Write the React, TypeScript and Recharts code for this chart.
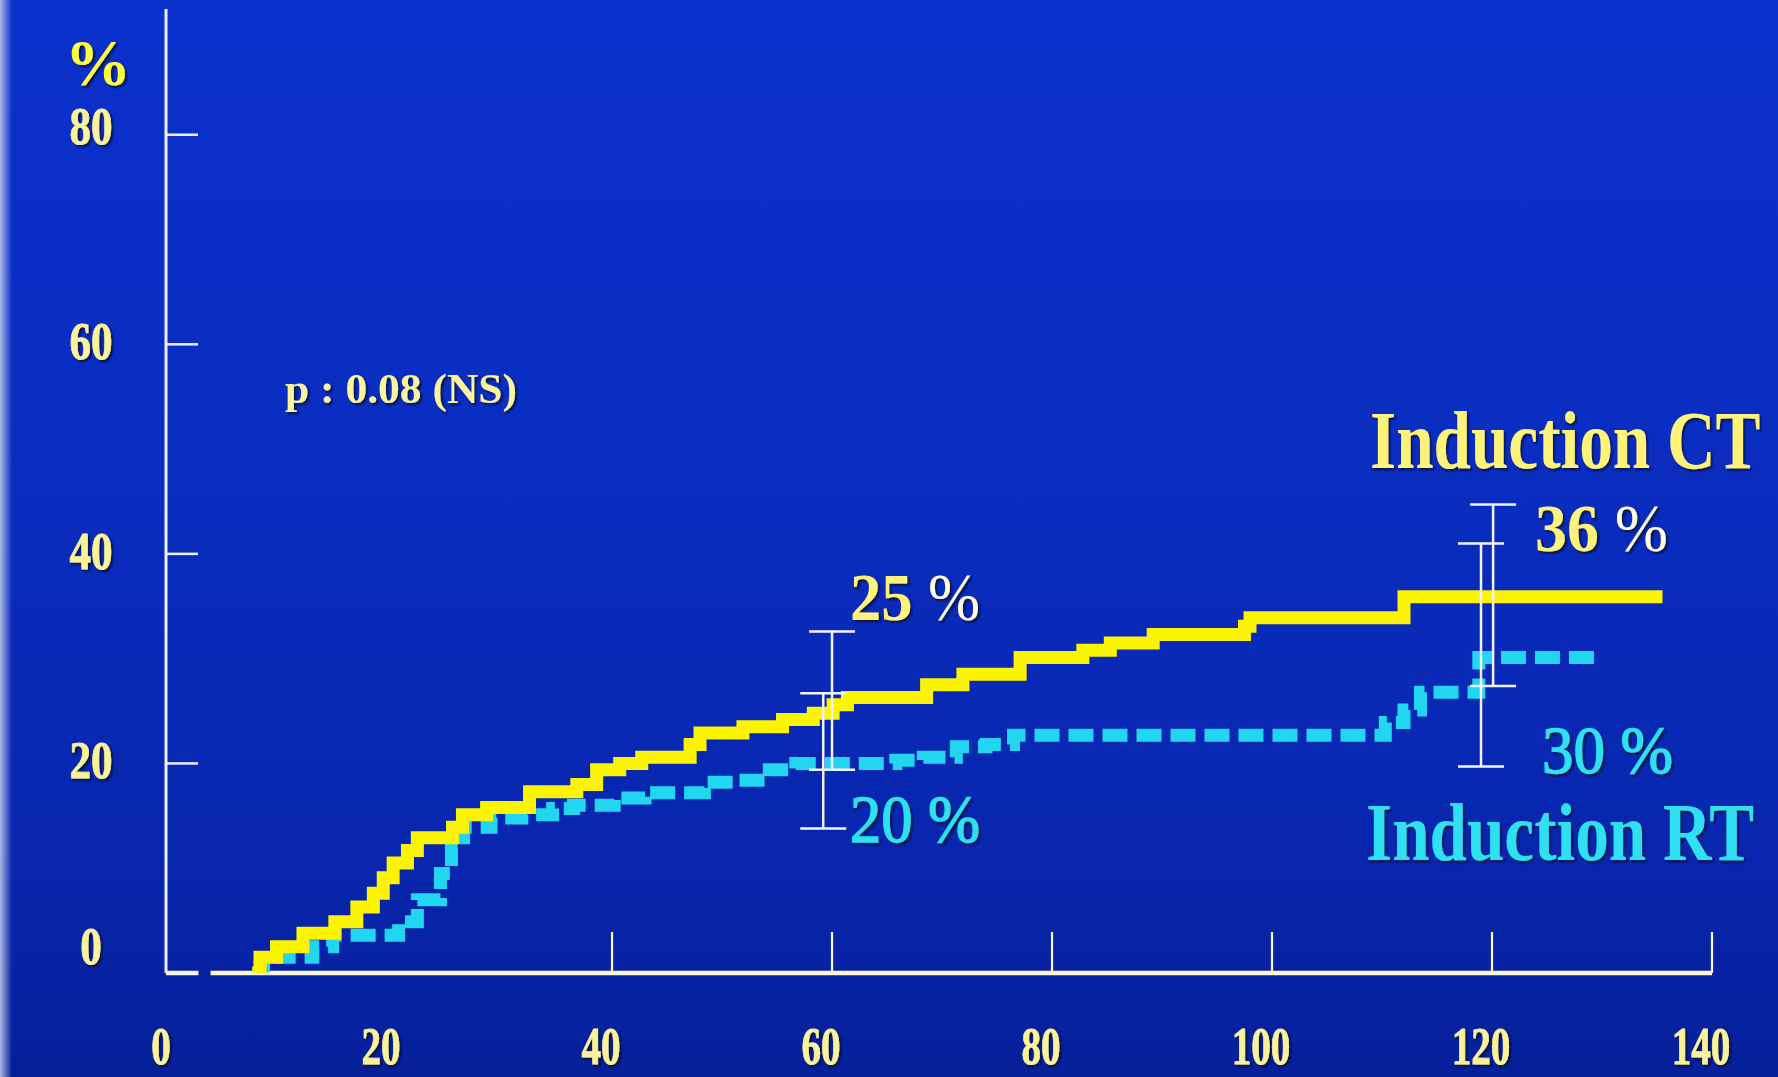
import React from 'react';
import { ComposedChart, Line, XAxis, YAxis, Scatter, ErrorBar, ReferenceLine } from 'recharts';

// Induction CT (yellow) cumulative incidence, step points (months, %)
const ctTime = [7.3, 8, 9.5, 11.9, 14.8, 16.8, 18.3, 19.2, 20.1, 21.4, 22.3, 25.5, 26.4, 28.6, 32.5, 36.8, 38.6, 40.7, 42.7, 47.1, 48, 51.9, 55.5, 58.3, 60.1, 61.4, 68.6, 71.9, 77.1, 82.8, 85.3, 89.2, 97.5, 98, 112, 135.5];
const ctPct = [0, 1.5, 2.5, 3.8, 4.9, 6.3, 7.6, 9.1, 10.5, 11.7, 12.9, 13.9, 15.1, 15.8, 17.3, 18.0, 19.4, 20.0, 20.6, 21.8, 22.9, 23.5, 24.2, 24.8, 25.6, 26.3, 27.5, 28.5, 30.1, 30.8, 31.5, 32.3, 33.1, 33.9, 35.9, 35.9];

// Induction RT (cyan, dashed)
const rtTime = [7.3, 8, 9.5, 12.8, 14.6, 20.6, 22.3, 24.4, 25.4, 26.5, 29, 31.8, 34.6, 36.5, 40.2, 43, 48.4, 51.5, 54.3, 56.7, 65.8, 68.3, 71.3, 74, 76.5, 110.3, 112, 113.5, 118.8, 129.6];
const rtPct = [0, 0.7, 1.5, 2.5, 3.6, 4.9, 7.0, 9.5, 12.0, 13.9, 14.8, 15.1, 15.7, 16.0, 16.7, 17.2, 18.2, 18.4, 19.4, 20.0, 20.3, 20.6, 21.6, 21.8, 22.7, 23.9, 25.1, 26.8, 30.1, 30.1];

// Confidence intervals at 60 and 120 months
const ciTime = [59.2, 60.0, 119.0, 120.1];
const ciEst = [20, 25, 30, 36];
const ciLow = [13.8, 19.4, 19.7, 27.4];
const ciHigh = [26.7, 32.6, 41.0, 44.7];

const xTicks = [0, 20, 40, 60, 80, 100, 120, 140];
const xTickMarks = [40, 60, 80, 100, 120, 140];
const yTicks = [0, 20, 40, 60, 80];

const ctData = ctTime.map((t, i) => ({ t, v: ctPct[i] }));
const rtData = rtTime.map((t, i) => ({ t, v: rtPct[i] }));
const ciData = ciTime.map((t, i) => ({
  t,
  est: ciEst[i],
  err: [ciEst[i] - ciLow[i], ciHigh[i] - ciEst[i]],
}));

const SERIF = '"Liberation Serif", "DejaVu Serif", serif';
const YELLOW = '#fcf400';
const CYAN = '#22d6f2';
const LABEL = '#fbf29a';
const TXT_Y = '#fff27a';
const TXT_C = '#2ee0f2';

const yLabelShift: Record<number, number> = { 0: -9, 80: 9 };

const YTick = (props: any) => {
  const { x, y, payload } = props;
  const v = payload.value;
  const label = String(v);
  const dy = yLabelShift[v] ?? 15;
  return (
    <g>
      <line x1={x} x2={x + 32} y1={y} y2={y} stroke="#eef0ff" strokeWidth={2.5} />
      <text
        x={x - 75}
        y={y + dy}
        textAnchor="middle"
        fontFamily={SERIF}
        fontSize={53}
        fontWeight="bold"
        fill={LABEL}
        stroke={LABEL}
        strokeWidth={0.8}
        textLength={label.length * 21.5}
        lengthAdjust="spacingAndGlyphs"
        filter="url(#txtShadow)"
      >
        {label}
      </text>
    </g>
  );
};

const XTick = (props: any) => {
  const { x, y, payload } = props;
  const v = payload.value;
  const label = String(v);
  return (
    <g>
      {xTickMarks.includes(v) && (
        <line x1={x} x2={x} y1={y} y2={y - 41} stroke="#fdf8d8" strokeWidth={2.2} />
      )}
      <text
        x={x - 11}
        y={y + 91}
        textAnchor="middle"
        fontFamily={SERIF}
        fontSize={52}
        fontWeight="bold"
        fill={LABEL}
        stroke={LABEL}
        strokeWidth={0.8}
        textLength={label.length * 19.5}
        lengthAdjust="spacingAndGlyphs"
        filter="url(#txtShadow)"
      >
        {label}
      </text>
    </g>
  );
};

const EmptyShape = () => <g />;

export default function App() {
  const W = 1778;
  const H = 1077;
  return (
    <div
      style={{
        position: 'absolute',
        left: 0,
        top: 0,
        width: W,
        height: H,
        overflow: 'hidden',
        background: 'linear-gradient(to bottom, #0a31cc 0%, #0a2dc0 45%, #0826ad 80%, #06209a 100%)',
      }}
    >
      <div
        style={{
          position: 'absolute',
          left: 0,
          top: 0,
          width: 12,
          height: H,
          background: 'linear-gradient(to right, rgba(200,210,240,0.85), rgba(200,210,240,0))',
        }}
      />
      <div style={{ position: 'absolute', left: 0, top: 0 }}>
        <ComposedChart width={W} height={H} margin={{ top: 9, right: 66, bottom: 0, left: 0 }}>
          <XAxis
            dataKey="t"
            type="number"
            domain={[-0.55, 140]}
            allowDataOverflow
            ticks={xTicks}
            interval={0}
            axisLine={false}
            tickLine={false}
            tickSize={0}
            tickMargin={0}
            height={104}
            tick={XTick}
          />
          <YAxis
            type="number"
            domain={[0, 92]}
            allowDataOverflow
            ticks={yTicks}
            interval={0}
            width={166}
            axisLine={{ stroke: '#eceef8', strokeWidth: 3 }}
            tickLine={false}
            tickSize={0}
            tickMargin={0}
            tick={YTick}
          />
          <ReferenceLine
            segment={[{ x: -0.55, y: 0 }, { x: 2.4, y: 0 }]}
            stroke="#fdf8d8"
            strokeWidth={4.5}
          />
          <ReferenceLine
            segment={[{ x: 3.5, y: 0 }, { x: 140, y: 0 }]}
            stroke="#fdf8d8"
            strokeWidth={4.5}
          />
          <Line
            data={rtData}
            dataKey="v"
            type="stepAfter"
            stroke={CYAN}
            strokeWidth={13}
            strokeDasharray="25 9"
            strokeLinejoin="miter"
            dot={false}
            activeDot={false}
            isAnimationActive={false}
          />
          <Line
            data={ctData}
            dataKey="v"
            type="stepAfter"
            stroke={YELLOW}
            strokeWidth={13}
            strokeLinejoin="miter"
            dot={false}
            activeDot={false}
            isAnimationActive={false}
          />
          <Scatter data={ciData} dataKey="est" shape={EmptyShape} isAnimationActive={false}>
            <ErrorBar dataKey="err" direction="y" width={23} stroke="#f4f4ff" strokeWidth={2.5} />
          </Scatter>
        </ComposedChart>
      </div>
      <svg
        width={W}
        height={H}
        style={{ position: 'absolute', left: 0, top: 0, pointerEvents: 'none' }}
      >
        <defs>
          <filter id="txtShadow" x="-10%" y="-20%" width="120%" height="140%">
            <feDropShadow dx="2" dy="2" stdDeviation="1.2" floodColor="#000a3a" floodOpacity="0.85" />
          </filter>
        </defs>
        <text x={98} y={85} textAnchor="middle" fontFamily={SERIF} fontSize={66} fontWeight="bold" fill="#ffff3a" filter="url(#txtShadow)">
          %
        </text>
        <text x={285} y={403} fontFamily={SERIF} fontSize={42} fontWeight="bold" fill="#fbf49e" textLength={232} lengthAdjust="spacingAndGlyphs" filter="url(#txtShadow)">
          p : 0.08 (NS)
        </text>
        <g transform="translate(1370,468) scale(0.82,1)">
          <text x={0} y={0} fontFamily={SERIF} fontSize={82} fontWeight="bold" fill={TXT_Y} filter="url(#txtShadow)">
            Induction CT
          </text>
        </g>
        <g transform="translate(1366,860) scale(0.82,1)">
          <text x={0} y={0} fontFamily={SERIF} fontSize={82} fontWeight="bold" fill={TXT_C} filter="url(#txtShadow)">
            Induction RT
          </text>
        </g>
        <text x={1535} y={551} fontFamily={SERIF} fontSize={68} fill={TXT_Y} textLength={133} lengthAdjust="spacingAndGlyphs" filter="url(#txtShadow)">
          <tspan fontWeight="bold">36</tspan> <tspan fill="#fffbe0">%</tspan>
        </text>
        <text x={1542} y={773} fontFamily={SERIF} fontSize={68} fill={TXT_C} stroke={TXT_C} strokeWidth={1.4} textLength={131} lengthAdjust="spacingAndGlyphs" filter="url(#txtShadow)">
          30 %
        </text>
        <text x={850} y={620} fontFamily={SERIF} fontSize={68} fill={TXT_Y} textLength={130} lengthAdjust="spacingAndGlyphs" filter="url(#txtShadow)">
          <tspan fontWeight="bold">25</tspan> <tspan fill="#fffbe0">%</tspan>
        </text>
        <text x={850} y={842} fontFamily={SERIF} fontSize={68} fill={TXT_C} stroke={TXT_C} strokeWidth={1.4} textLength={130} lengthAdjust="spacingAndGlyphs" filter="url(#txtShadow)">
          20 %
        </text>
      </svg>
    </div>
  );
}
